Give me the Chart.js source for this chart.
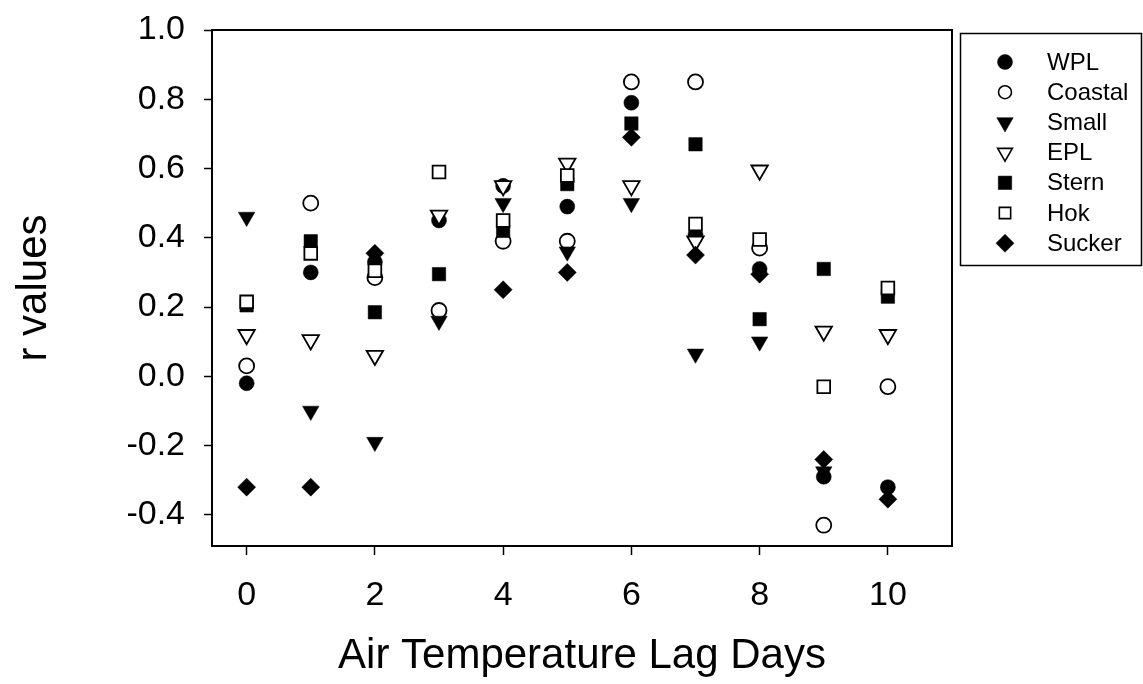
<!DOCTYPE html>
<html>
<head>
<meta charset="utf-8">
<script src="https://cdn.jsdelivr.net/npm/chart.js@4/dist/chart.umd.min.js"></script>
<style>
  html, body { margin: 0; padding: 0; background: #fff; }
  canvas { display: block; }
</style>
</head>
<body>
<canvas id="lagChart" width="1143" height="684"></canvas>
<script>
// lag days on the x axis
lagDays = [0, 1, 2, 3, 4, 5, 6, 7, 8, 9, 10];

// r values per group (null = hidden behind another marker)
wpl     = [-0.02, 0.30, 0.33, 0.45, 0.55, 0.49, 0.79, 0.41, 0.31, -0.29, -0.32];
coastal = [0.03, 0.50, 0.285, 0.19, 0.39, 0.39, 0.85, 0.85, 0.37, -0.43, -0.03];
small   = [0.46, -0.10, -0.19, 0.16, 0.50, 0.36, 0.50, 0.065, 0.10, -0.275, null];
epl     = [0.12, 0.105, 0.06, 0.465, 0.55, 0.615, 0.55, 0.39, 0.595, 0.13, 0.12];
stern   = [0.205, 0.39, 0.185, 0.295, 0.42, 0.555, 0.73, 0.67, 0.165, 0.31, 0.23];
hok     = [0.215, 0.355, 0.305, 0.59, 0.45, 0.58, null, 0.44, 0.395, -0.03, 0.255];
sucker  = [-0.32, -0.32, 0.355, null, 0.25, 0.30, 0.69, 0.35, 0.295, -0.24, -0.355];

xTicks = [0, 2, 4, 6, 8, 10];
yTicks = [-0.4, -0.2, 0.0, 0.2, 0.4, 0.6, 0.8, 1.0];
yTickLabels = ["-0.4", "-0.2", "0.0", "0.2", "0.4", "0.6", "0.8", "1.0"];

FONT = "'Liberation Sans', Arial, Helvetica, sans-serif";

series = [
    { name: "WPL",     vals: wpl,     style: "circle",   r: 7.5, rot: 0,   filled: true },
    { name: "Coastal", vals: coastal, style: "circle",   r: 7.5, rot: 0,   filled: false },
    { name: "Small",   vals: small,   style: "triangle", r: 9.5, rot: 180, filled: true },
    { name: "EPL",     vals: epl,     style: "triangle", r: 9.5, rot: 180, filled: false },
    { name: "Stern",   vals: stern,   style: "rect",     r: 9.5, rot: 0,   filled: true },
    { name: "Hok",     vals: hok,     style: "rect",     r: 9,   rot: 0,   filled: false },
    { name: "Sucker",  vals: sucker,  style: "rectRot",  r: 9,   rot: 0,   filled: true }
];

datasets = series.map((s, i) => {
    pts = [];
    lagDays.forEach((d, j) => {
        if (s.vals[j] != null) pts.push({ x: d, y: s.vals[j] });
    });
    return {
        label: s.name,
        data: pts,
        pointStyle: s.style,
        pointRadius: s.r,
        pointHoverRadius: s.r,
        pointRotation: s.rot,
        backgroundColor: s.filled ? "#000" : "#fff",
        borderColor: "#000",
        borderWidth: s.filled ? 0.5 : 1.8,
        order: series.length - i
    };
});

// white page + box round the plot
frame = {
    id: "frame",
    beforeDraw(chart) {
        const ctx = chart.ctx;
        ctx.save();
        ctx.fillStyle = "#fff";
        ctx.fillRect(0, 0, chart.width, chart.height);
        ctx.restore();
    },
    afterDraw(chart) {
        const a = chart.chartArea, ctx = chart.ctx;
        ctx.save();
        ctx.strokeStyle = "#000";
        ctx.lineWidth = 2;
        ctx.beginPath();
        ctx.moveTo(a.left, a.top);
        ctx.lineTo(a.right, a.top);
        ctx.lineTo(a.right, a.bottom);
        ctx.stroke();
        ctx.restore();
    }
};

// legend box on the right
boxLegend = {
    id: "boxLegend",
    afterDraw(chart) {
        const ctx = chart.ctx;
        ctx.save();
        ctx.strokeStyle = "#000";
        ctx.lineWidth = 1.5;
        ctx.strokeRect(960.5, 33.5, 181, 232);
        ctx.font = "24px " + FONT;
        ctx.textBaseline = "middle";
        ctx.textAlign = "left";
        series.forEach((s, i) => {
            const y = 62 + i * 30.2;
            ctx.fillStyle = s.filled ? "#000" : "#fff";
            ctx.strokeStyle = "#000";
            ctx.lineWidth = s.filled ? 0.5 : 1.6;
            Chart.helpers.drawPoint(ctx, {
                pointStyle: s.style,
                radius: s.filled ? s.r : s.r - 1,
                rotation: s.rot,
                borderWidth: ctx.lineWidth
            }, 1005, y);
            ctx.fillStyle = "#000";
            ctx.fillText(s.name, 1047, y + 1);
        });
        ctx.restore();
    }
};

chart = new Chart(document.getElementById("lagChart"), {
    type: "scatter",
    data: { datasets: datasets },
    plugins: [frame, boxLegend],
    options: {
        responsive: false,
        animation: false,
        layout: { padding: { top: 30, right: 191, left: 0, bottom: 0 } },
        plugins: {
            legend: { display: false },
            tooltip: { enabled: false }
        },
        scales: {
            x: {
                type: "linear",
                min: -0.54,
                max: 11,
                afterBuildTicks: (s) => { s.ticks = xTicks.map(v => ({ value: v })); },
                afterFit: (s) => { s.height = 138; s.paddingLeft = 0; s.paddingRight = 0; },
                border: { display: true, color: "#000", width: 2 },
                grid: { drawOnChartArea: false, drawTicks: true, tickLength: 9, tickColor: "#000", tickWidth: 1.5 },
                ticks: {
                    color: "#000",
                    font: { family: FONT, size: 34 },
                    padding: 20,
                    maxRotation: 0,
                    callback: (v) => String(v)
                },
                title: {
                    display: true,
                    text: "Air Temperature Lag Days",
                    color: "#000",
                    font: { family: FONT, size: 42 },
                    padding: { top: 0, bottom: 2 }
                }
            },
            y: {
                type: "linear",
                min: -0.49,
                max: 1.0,
                afterBuildTicks: (s) => { s.ticks = yTicks.map(v => ({ value: v })); },
                afterFit: (s) => { s.width = 212; s.paddingTop = 0; s.paddingBottom = 0; },
                border: { display: true, color: "#000", width: 2 },
                grid: { drawOnChartArea: false, drawTicks: true, tickLength: 8, tickColor: "#000", tickWidth: 1.5 },
                ticks: {
                    color: "#000",
                    font: { family: FONT, size: 34 },
                    padding: 19,
                    callback: (v, i) => yTickLabels[yTicks.indexOf(Math.round(v * 10) / 10)]
                },
                title: {
                    display: true,
                    text: "r values",
                    color: "#000",
                    font: { family: FONT, size: 42 },
                    padding: { top: 9, bottom: 0 }
                }
            }
        }
    }
});
</script>
</body>
</html>
